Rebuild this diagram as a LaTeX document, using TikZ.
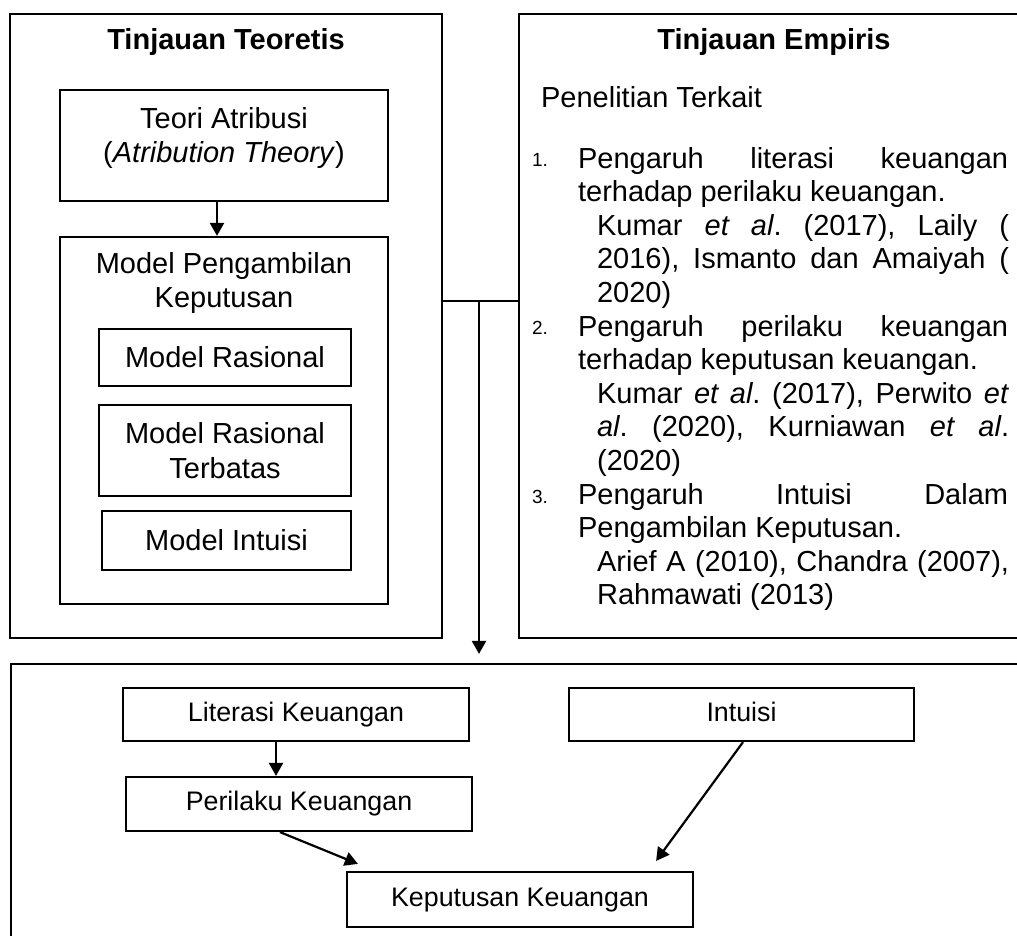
\documentclass[tikz,border=0pt]{standalone}
\usepackage{fontspec}
\setmainfont{Liberation Sans}
\usetikzlibrary{arrows.meta}

\hyphenpenalty=10000
\hbadness=10000
\frenchspacing
\newcommand{\ftxt}{\fontsize{14.5}{17.2}\selectfont}
\newcommand{\fpar}{\fontsize{14.5}{16.8}\selectfont}
\newcommand{\fsub}{\fontsize{13.4}{15.4}\selectfont}
\newcommand{\fnum}{\fontsize{9.5}{11}\selectfont}

\begin{document}
\begin{tikzpicture}[x=0.5pt, y=-0.5pt, >={Triangle[length=6.5pt, width=7pt]},
                    line width=1.1pt, font=\ftxt]
\tikzstyle{box}=[draw, rectangle, inner sep=0pt, align=center]
\tikzstyle{subbox}=[box, font=\fsub, text height=9.6pt, text depth=2.8pt]
\tikzstyle{txt}=[inner sep=0pt, align=center]
\tikzstyle{para}=[inner sep=0pt, anchor=north west, align=justify, font=\fpar]
\useasboundingbox (0,0) rectangle (1017,936);
  % kotak besar
  \node[box, minimum width=216pt, minimum height=312pt] (teoretis) at (226,326) {};
  \node[box, minimum width=263pt, minimum height=312pt] (empiris) at (782,326) {};
  \node[box, minimum width=517pt, minimum height=143pt] (kerangka) at (528,807) {};
  \node[txt, anchor=base, font=\ftxt\bfseries] (judulTeori) at (226,50) {Tinjauan Teoretis};
  \node[txt, anchor=base, font=\ftxt\bfseries] (judulEmpiris) at (774,50) {Tinjauan Empiris};
  %
  \node[box, minimum width=164pt, minimum height=55.5pt] (teori) at (224,145.5) {};
  \node[txt] (teoriTxt) at (224,138) {Teori Atribusi\\(\textit{Atribution Theory})};
  \node[box, minimum width=164pt, minimum height=183.5pt] (model) at (224,420.5) {};
  \node[txt] (modelTxt) at (224,283) {Model Pengambilan\\Keputusan};
  \node[box, minimum width=126pt, minimum height=28.5pt] (rasional) at (225,357.5) {Model Rasional};
  \node[box, minimum width=126pt, minimum height=45.5pt] (terbatas) at (225,450.5) {Model Rasional\\Terbatas};
  \node[box, minimum width=124.5pt, minimum height=29.5pt] (intuisiModel) at (226.5,540.5) {Model Intuisi};
  %
  \node[txt, anchor=base west] (terkait) at (540,108) {Penelitian Terkait};
  \node[txt, anchor=base west, font=\fnum] (no1) at (531,167) {1.};
  \node[para, text width=215pt] (item1) at (577,143.5)
    {\strut Pengaruh literasi keuangan\linebreak terhadap perilaku keuangan.};
  \node[para, text width=206pt] (cite1) at (596,210.7)
    {\strut Kumar \textit{et al}. (2017), Laily (\linebreak 2016), Ismanto dan Amaiyah (\linebreak 2020)};
  \node[txt, anchor=base west, font=\fnum] (no2) at (531,335) {2.};
  \node[para, text width=215pt] (item2) at (577,311.5)
    {\strut Pengaruh perilaku keuangan\linebreak terhadap keputusan keuangan.};
  \node[para, text width=206pt] (cite2) at (596,378.7)
    {\strut Kumar \textit{et al}. (2017), Perwito \textit{et}\linebreak \textit{al}. (2020), Kurniawan \textit{et al}.\linebreak (2020)};
  \node[txt, anchor=base west, font=\fnum] (no3) at (531,503) {3.};
  \node[para, text width=215pt] (item3) at (577,479.5)
    {\strut Pengaruh Intuisi Dalam\linebreak Pengambilan Keputusan.};
  \node[para, text width=206pt] (cite3) at (596,546.7)
    {\strut Arief A (2010), Chandra (2007),\linebreak Rahmawati (2013)};
  %
  \node[subbox, minimum width=173pt, minimum height=26.5pt] (literasi) at (296,714.5) {Literasi Keuangan};
  \node[subbox, minimum width=173pt, minimum height=27pt] (perilaku) at (299,804) {Perilaku Keuangan};
  \node[subbox, minimum width=172.5pt, minimum height=26.5pt] (intuisi) at (741.5,714.5) {Intuisi};
  \node[subbox, minimum width=173pt, minimum height=27.5pt] (keputusan) at (520,899.5) {Keputusan Keuangan};
  %
  \coordinate (cabang) at (479,301);
  \path (teoretis.east |- cabang) edge (empiris.west |- cabang);
  \path[->] (cabang) edge [shorten >=4.5pt] (cabang |- kerangka.north);
  \path[->] ([xshift=-3.5pt]teori.south) edge ([xshift=-3.5pt]model.north);
  %
  \path[->] ([xshift=-10pt]literasi.south) edge ([xshift=-11.5pt]perilaku.north);
  \path[->] ([xshift=-9.5pt]perilaku.south) edge ([xshift=6pt, yshift=3.5pt]keputusan.north west);
  \path[->] ([xshift=0.75pt]intuisi.south) edge ([xshift=-19pt, yshift=5pt]keputusan.north east);
\end{tikzpicture}
\end{document}
